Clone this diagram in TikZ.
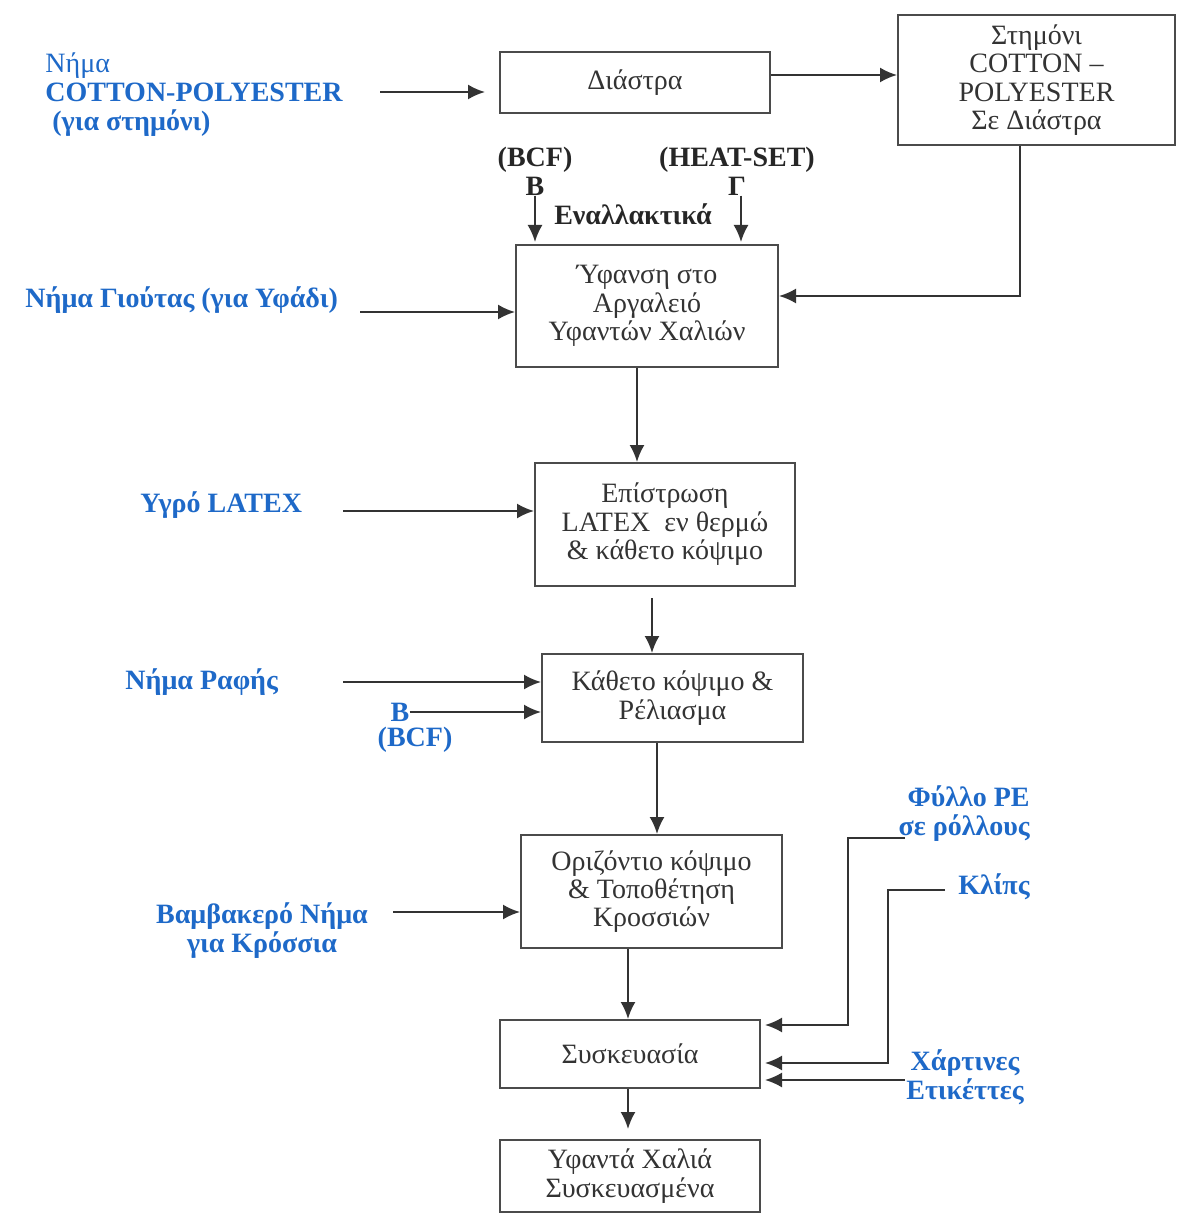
\documentclass[tikz,border=0pt]{standalone}
\usepackage{fontspec}
\setmainfont{Liberation Serif}
\usetikzlibrary{arrows.meta}

\definecolor{inputblue}{RGB}{30,105,200}
\definecolor{framegray}{RGB}{75,75,75}
\newcommand{\flowfont}{\fontsize{14}{14.2}\selectfont}
\newcommand{\inputfont}{\fontsize{14}{14.5}\selectfont\bfseries}

\begin{document}
\begin{tikzpicture}[x=0.5pt,y=-0.5pt,
    box/.style={draw=framegray,line width=1pt,align=center,inner sep=0pt,font=\flowfont,text=black!80},
    inlabel/.style={font=\inputfont,text=inputblue,inner sep=0pt},
    altlabel/.style={font=\inputfont,text=black!85,inner sep=0pt,align=center},
    arr/.style={draw=black!80,line width=1pt,-{Latex[length=8.5pt,width=7.5pt]}}]

    \useasboundingbox (0,0) rectangle (1179,1213);

    % Process boxes, top to bottom
    \node[box,minimum width=135pt,minimum height=30.5pt] (diastra) at (635,82.5) {\raisebox{2pt}{Διάστρα}};
    \node[box,minimum width=138.5pt,minimum height=65pt] (stimoni) at (1036.5,80)
        {Στημόνι\\COTTON –\\POLYESTER\\Σε Διάστρα};
    \node[box,minimum width=131pt,minimum height=61pt] (yfansi) at (647,306)
        {Ύφανση στο\\Αργαλειό\\Υφαντών Χαλιών};
    \node[box,minimum width=130pt,minimum height=61.5pt] (epistrosi) at (665,524.5)
        {Επίστρωση\\LATEX\enspace εν θερμώ\\\& κάθετο κόψιμο};
    \node[box,minimum width=130.5pt,minimum height=44pt] (katheto) at (672.5,698)
        {Κάθετο κόψιμο \&\\Ρέλιασμα};
    \node[box,minimum width=130.5pt,minimum height=56.5pt] (orizontio) at (651.5,891.5)
        {Οριζόντιο κόψιμο\\\& Τοποθέτηση\\Κροσσιών};
    \node[box,minimum width=130pt,minimum height=34pt] (syskevasia) at (630,1054) {Συσκευασία};
    \node[box,minimum width=130pt,minimum height=36pt] (teliko) at (630,1176)
        {Υφαντά Χαλιά\\Συσκευασμένα};

    % Raw material labels
    \node[inlabel,anchor=west,align=left] (cotton) at (45,95)
        {{\mdseries Νήμα}\\COTTON-POLYESTER\\\hspace{3.5pt}(για στημόνι)};
    \node[inlabel,anchor=west] (giutas) at (25,300) {Νήμα Γιούτας (για Υφάδι)};
    \node[inlabel,anchor=west] (latex) at (140,505) {Υγρό LATEX};
    \node[inlabel,anchor=west] (rafis) at (125,682) {Νήμα Ραφής};
    \node[inlabel] (sewb) at (400,712) {B};
    \node[inlabel] (sewbcf) at (415,740) {(BCF)};
    \node[inlabel,align=center] (vamvakero) at (262,931) {Βαμβακερό Νήμα\\για Κρόσσια};
    \node[inlabel,anchor=east,align=right] (pe) at (1030,814) {Φύλλο PE\\σε ρόλλους};
    \node[inlabel,anchor=east] (klips) at (1030,887) {Κλίπς};
    \node[inlabel,align=center] (xartines) at (965,1077) {Χάρτινες\\Ετικέττες};

    % Alternative pile yarns
    \node[altlabel] (bcf) at (535,171) {(BCF)\\B};
    \node[altlabel] (heat) at (737,171) {(HEAT-SET)\\Γ};
    \node[altlabel] (enallaktika) at (633,214) {Εναλλακτικά};

    % Start points of the input arrows
    \coordinate (cottonout) at (380,92);
    \coordinate (giutasout) at (360,312);
    \coordinate (latexout) at (343,511);
    \coordinate (cutout) at (652,598);
    \coordinate (rafisout) at (343,682);
    \coordinate (vamvout) at (393,912);
    \coordinate (peout) at (905,838);
    \coordinate (klipsout) at (945,890);
    \coordinate (xartout) at (905,1080);
    \coordinate (packtip) at (628,1129);

    % Warp line
    \draw[arr,shorten >=7pt] (cottonout) -- (cottonout -| diastra.west);
    \draw[arr] (diastra.east |- 0,75) -- (stimoni.west |- 0,75);
    \draw[arr] (stimoni.south -| 1020,0) |- (yfansi.east |- 0,296);

    % Weaving inputs
    \draw[arr,shorten >=1pt] (bcf.south) -- (bcf.south |- yfansi.north);
    \draw[arr,shorten >=1pt] (heat.south -| 741,0) -- (yfansi.north -| 741,0);
    \draw[arr] (giutasout) -- (giutasout -| yfansi.west);

    % Main flow down
    \draw[arr] (yfansi.south -| 637,0) -- (epistrosi.north -| 637,0);
    \draw[arr] (latexout) -- (latexout -| epistrosi.west);
    \draw[arr] (cutout) -- (cutout |- katheto.north);
    \draw[arr] (rafisout) -- (rafisout -| katheto.west);
    \draw[arr] (sewb.east) -- (sewb.east -| katheto.west);
    \draw[arr] (katheto.south -| 657,0) -- (orizontio.north -| 657,0);
    \draw[arr] (vamvout) -- (vamvout -| orizontio.west);
    \draw[arr] (orizontio.south -| 628,0) -- (syskevasia.north -| 628,0);

    % Packaging materials
    \draw[arr,shorten >=2pt] (peout) -- (peout -| 848,0) |- (syskevasia.east |- 0,1025);
    \draw[arr,shorten >=2pt] (klipsout) -- (klipsout -| 888,0) |- (syskevasia.east |- 0,1063);
    \draw[arr,shorten >=2pt] (xartout) -- (xartout -| syskevasia.east);
    \draw[arr] (syskevasia.south -| 628,0) -- (packtip);

\end{tikzpicture}
\end{document}
